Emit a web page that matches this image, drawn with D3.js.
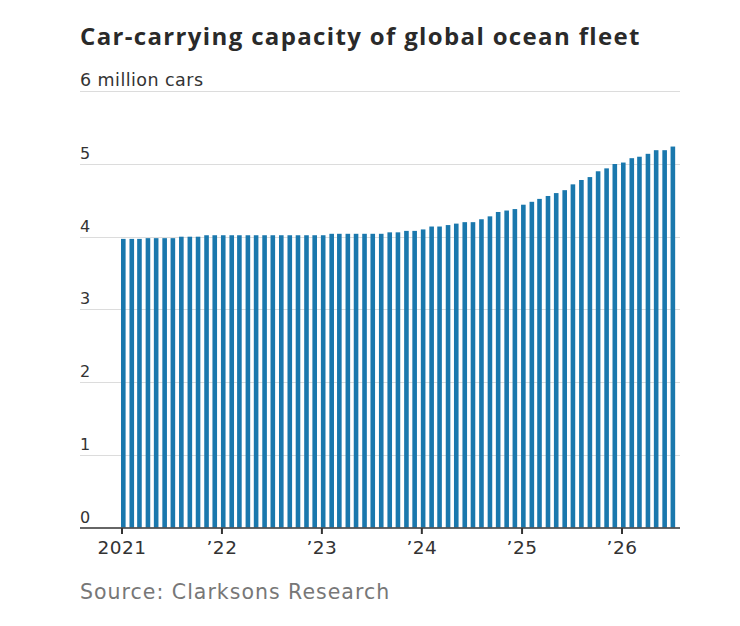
<!DOCTYPE html>
<html>
<head>
<meta charset="utf-8">
<script src="https://cdn.jsdelivr.net/npm/d3@7"></script>
<style>
  html, body { margin: 0; padding: 0; background: #fff; }
  svg text { font-family: "DejaVu Sans", sans-serif; }
  svg text.title { font-family: "Open Sans", sans-serif; }
</style>
</head>
<body>
<svg id="chart" width="740" height="626"></svg>
<script>
// Monthly data, Jan 2021 – Jul 2026 (million cars)
const startYear = 2021;
const startMonth = 0;
const capacity = [
  3.97, 3.97, 3.97, 3.98, 3.98, 3.98, 3.98, 4.00, 4.00, 4.00, 4.02, 4.02,
  4.02, 4.02, 4.02, 4.02, 4.02, 4.02, 4.02, 4.02, 4.02, 4.02, 4.02, 4.02,
  4.02, 4.04, 4.04, 4.04, 4.04, 4.04, 4.04, 4.04, 4.06, 4.06, 4.08, 4.08,
  4.10, 4.14, 4.14, 4.16, 4.18, 4.20, 4.20, 4.24, 4.28, 4.34, 4.36, 4.38,
  4.44, 4.48, 4.52, 4.56, 4.60, 4.64, 4.72, 4.78, 4.82, 4.90, 4.94, 5.00,
  5.02, 5.08, 5.10, 5.14, 5.19, 5.19, 5.24
];
const yTicks = [0, 1, 2, 3, 4, 5, 6];
const yTickLabels = ["0", "1", "2", "3", "4", "5", "6 million cars"];
const xTickYears = [2021, 2022, 2023, 2024, 2025, 2026];
const xTickLabels = ["2021", "\u201922", "\u201923", "\u201924", "\u201925", "\u201926"];
const titleText = "Car-carrying capacity of global ocean fleet";
const sourceText = "Source: Clarksons Research";

const data = capacity.map((v, i) => ({ date: new Date(startYear, startMonth + i, 1), value: v }));

const svg = d3.select("#chart");
const plotLeft = 80, plotRight = 680;

const x = d3.scaleTime()
  .domain([new Date(2021, 0, 1), new Date(2026, 0, 1)])
  .range([121, 621]);
const y = d3.scaleLinear().domain([0, 6]).range([527.5, 91.3]);

// title
svg.append("text")
  .attr("class", "title")
  .attr("x", 80).attr("y", 45)
  .attr("font-size", 24).attr("font-weight", 700)
  .attr("letter-spacing", 1.35)
  .attr("fill", "#2a2a2a")
  .text(titleText);

// gridlines
svg.append("g").selectAll("line")
  .data(yTicks.filter(d => d > 0))
  .join("line")
  .attr("x1", plotLeft).attr("x2", plotRight)
  .attr("y1", d => Math.round(y(d)) + 0.5).attr("y2", d => Math.round(y(d)) + 0.5)
  .attr("stroke", "#dcdcdc").attr("stroke-width", 1);

// y labels
svg.append("g").selectAll("text")
  .data(yTicks)
  .join("text")
  .attr("x", 80)
  .attr("y", d => y(d) - 5)
  .attr("font-size", d => d === 6 ? 17.5 : 16)
  .attr("letter-spacing", d => d === 6 ? 0.45 : 0)
  .attr("fill", "#333")
  .text((d, i) => yTickLabels[i]);

// bars
const barW = 4.6;
svg.append("g").selectAll("rect")
  .data(data)
  .join("rect")
  .attr("x", d => x(d.date))
  .attr("width", barW)
  .attr("y", d => y(d.value))
  .attr("height", d => y(0) - y(d.value))
  .attr("fill", "#1a78ad");

// baseline
svg.append("line")
  .attr("x1", plotLeft).attr("x2", plotRight)
  .attr("y1", y(0) + 0.5).attr("y2", y(0) + 0.5)
  .attr("stroke", "#333").attr("stroke-width", 1.5);

// x axis
const xAxis = d3.axisBottom(x)
  .tickValues(xTickYears.map(yr => new Date(yr, 0, 1)))
  .tickSize(6)
  .tickPadding(7)
  .tickFormat((d, i) => xTickLabels[i]);

const gx = svg.append("g")
  .attr("transform", `translate(0.5,${y(0) + 0.5})`)
  .call(xAxis);
gx.select(".domain").remove();
gx.selectAll(".tick line").attr("stroke", "#333").attr("stroke-width", 2);
gx.selectAll(".tick text")
  .attr("font-size", 18.5)
  .attr("letter-spacing", 0.5)
  .attr("fill", "#333")
  .attr("font-family", null);

// source
svg.append("text")
  .attr("x", 80).attr("y", 599)
  .attr("font-size", 20.5)
  .attr("letter-spacing", 1)
  .attr("fill", "#777")
  .text(sourceText);
</script>
</body>
</html>
